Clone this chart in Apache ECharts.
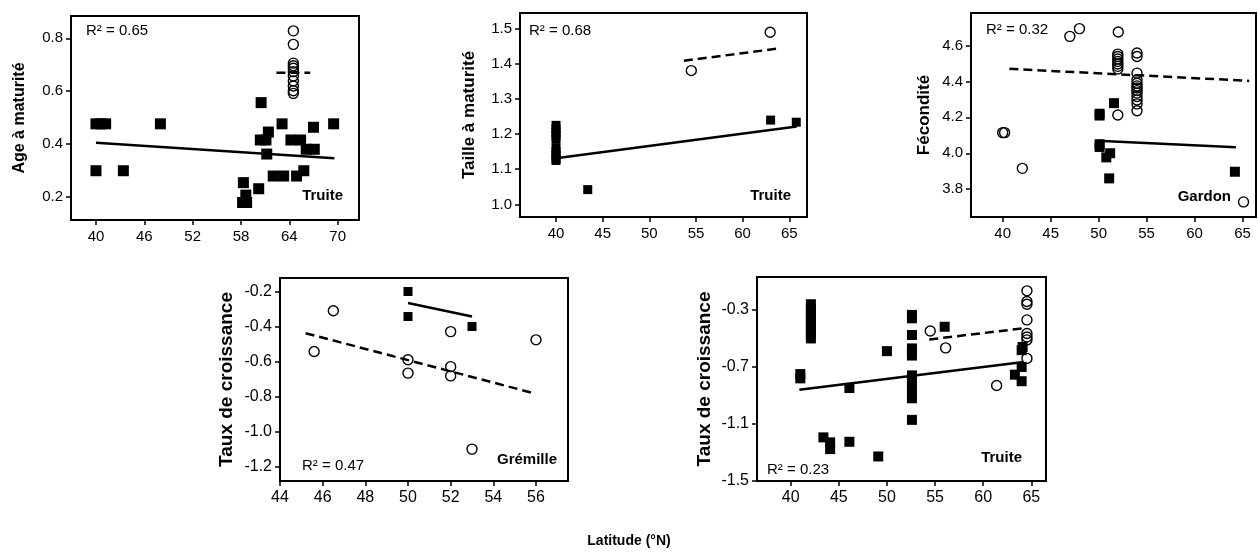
<!DOCTYPE html>
<html>
<head>
<meta charset="utf-8">
<script src="https://cdn.jsdelivr.net/npm/echarts@6/dist/echarts.min.js"></script>
<style>
  html, body { margin: 0; padding: 0; background: #fff; }
  #main { width: 1258px; height: 558px; }
</style>
</head>
<body>
<div id="main"></div>
<script>
// ---- Age à maturité (Truite) ----
const ageSquares = [
  [40, 0.477], [40.6, 0.477], [41.2, 0.477], [40, 0.30], [43.4, 0.30], [48.0, 0.477],
  [60.5, 0.557], [58.3, 0.255], [58.6, 0.208], [58.2, 0.18], [58.7, 0.18], [60.2, 0.232],
  [60.4, 0.416], [61.1, 0.416], [61.4, 0.446], [61.2, 0.363], [63.1, 0.477],
  [62.0, 0.28], [63.3, 0.28], [64.2, 0.416], [65.4, 0.416], [64.9, 0.28], [65.8, 0.30],
  [66.1, 0.381], [67.1, 0.381], [67.0, 0.464], [69.5, 0.477]
];
const ageCircles = [
  [64.5, 0.828], [64.5, 0.777], [64.5, 0.706], [64.5, 0.696], [64.5, 0.687], [64.5, 0.674],
  [64.5, 0.658], [64.5, 0.639], [64.5, 0.620], [64.5, 0.602], [64.5, 0.592]
];
const ageSolid = [[40, 0.406], [69.6, 0.347]];
const ageDashed = [[62.4, 0.670], [66.6, 0.670]];

// ---- Taille à maturité (Truite) ----
const tailleSquares = [
  [40, 1.225], [40, 1.215], [40, 1.205], [40, 1.195], [40, 1.185], [40, 1.16], [40, 1.15],
  [40, 1.14], [40, 1.13], [40, 1.125], [43.4, 1.042], [63.0, 1.24], [65.75, 1.234]
];
const tailleCircles = [[54.5, 1.381], [62.95, 1.49]];
const tailleSolid = [[40, 1.131], [65.8, 1.222]];
const tailleDashed = [[53.7, 1.409], [63.6, 1.443]];

// ---- Fécondité (Gardon) ----
const fecSquares = [
  [50.1, 4.22], [50.1, 4.21], [51.6, 4.279], [50.1, 4.05], [50.1, 4.035], [51.2, 4.0],
  [50.8, 3.977], [51.1, 3.86], [64.2, 3.897]
];
const fecCircles = [
  [40.0, 4.115], [40.2, 4.115], [42.05, 3.916], [47.0, 4.651], [48.0, 4.694], [52.05, 4.675],
  [52, 4.552], [52, 4.539], [52, 4.525], [52, 4.511], [52, 4.497], [52, 4.484], [52, 4.47],
  [52, 4.213], [54, 4.558], [54, 4.539], [54, 4.446], [54, 4.409], [54, 4.39], [54, 4.375],
  [54, 4.363], [54, 4.349], [54, 4.335], [54, 4.316], [54, 4.297], [54, 4.275], [54, 4.237],
  [65.1, 3.729]
];
const fecSolid = [[49.9, 4.07], [64.3, 4.033]];
const fecDashed = [[40.7, 4.47], [65.7, 4.403]];

// ---- Taux de croissance (Grémille) ----
const gremSquares = [[50, -0.2], [50, -0.343], [53, -0.40]];
const gremCircles = [
  [46.5, -0.31], [45.6, -0.543], [50, -0.59], [50, -0.666], [52, -0.429], [52, -0.629],
  [52, -0.682], [56, -0.476], [53, -1.10]
];
const gremSolid = [[50, -0.266], [53, -0.343]];
const gremDashed = [[45.2, -0.438], [55.9, -0.781]];

// ---- Taux de croissance (Truite) ----
const truSquares = [
  [42.1, -0.26], [42.1, -0.29], [42.1, -0.32], [42.1, -0.35], [42.1, -0.38], [42.1, -0.41],
  [42.1, -0.44], [42.1, -0.47], [42.1, -0.50], [41.0, -0.75], [41.0, -0.78],
  [43.4, -1.194], [44.1, -1.229], [44.1, -1.276], [46.1, -1.225], [46.1, -0.848],
  [49.1, -1.328], [50.0, -0.589],
  [52.6, -0.335], [52.6, -0.359], [52.6, -0.476], [52.6, -0.57], [52.6, -0.594], [52.6, -0.62],
  [52.6, -0.759], [52.6, -0.79], [52.6, -0.841], [52.6, -0.889], [52.6, -0.92], [52.6, -1.071],
  [56.0, -0.418], [64.0, -0.582], [64.1, -0.56], [64.0, -0.70], [63.3, -0.754], [64.0, -0.80]
];
const truCircles = [
  [54.5, -0.448], [56.1, -0.566], [61.4, -0.83], [64.55, -0.166], [64.55, -0.241],
  [64.55, -0.26], [64.55, -0.37], [64.55, -0.465], [64.55, -0.49], [64.55, -0.51], [64.55, -0.64]
];
const truSolid = [[40.9, -0.86], [64.2, -0.665]];
const truDashed = [[54.4, -0.507], [64.2, -0.429]];

// tick labels
const ageXTicks = [40, 46, 52, 58, 64, 70];
const ageYTicks = [0.2, 0.4, 0.6, 0.8];
const tailleXTicks = [40, 45, 50, 55, 60, 65];
const tailleYTicks = [1.0, 1.1, 1.2, 1.3, 1.4, 1.5];
const fecXTicks = [40, 45, 50, 55, 60, 65];
const fecYTicks = [3.8, 4.0, 4.2, 4.4, 4.6];
const gremXTicks = [44, 46, 48, 50, 52, 54, 56];
const gremYTicks = [-1.2, -1.0, -0.8, -0.6, -0.4, -0.2];
const truXTicks = [40, 45, 50, 55, 60, 65];
const truYTicks = [-1.5, -1.1, -0.7, -0.3];

const FONT = "'Liberation Sans', Arial, Helvetica, sans-serif";

// panel layout: grid box, axis ranges, font sizes, texts
const panels = [
  { grid: [71, 16, 288, 204], xr: [36.9, 72.65], yr: [0.114, 0.884], xt: ageXTicks, yt: ageYTicks,
    name: "Age à maturité", fs: 15, nfs: 16, gap: 43,
    sq: ageSquares, ci: ageCircles, solid: ageSolid, dashed: ageDashed, sqSize: 11, ciSize: 10,
    r2: "R² = 0.65", r2Pos: [86, 31], sp: "Truite", spPos: [343, 196] },
  { grid: [520, 13, 287, 204], xr: [36.14, 66.9], yr: [0.964, 1.545], xt: tailleXTicks, yt: tailleYTicks,
    name: "Taille à maturité", fs: 15, nfs: 17, gap: 42,
    sq: tailleSquares, ci: tailleCircles, solid: tailleSolid, dashed: tailleDashed, sqSize: 9, ciSize: 10,
    r2: "R² = 0.68", r2Pos: [529, 31], sp: "Truite", spPos: [791, 196] },
  { grid: [971, 13, 285, 204], xr: [36.7, 66.4], yr: [3.645, 4.781], xt: fecXTicks, yt: fecYTicks,
    name: "Fécondité", fs: 15, nfs: 17, gap: 38,
    sq: fecSquares, ci: fecCircles, solid: fecSolid, dashed: fecDashed, sqSize: 10, ciSize: 10,
    r2: "R² = 0.32", r2Pos: [986, 30], sp: "Gardon", spPos: [1231, 197] },
  { grid: [280, 278, 288, 203], xr: [44, 57.5], yr: [-1.282, -0.123], xt: gremXTicks, yt: gremYTicks,
    name: "Taux de croissance", fs: 16, nfs: 19, gap: 44,
    sq: gremSquares, ci: gremCircles, solid: gremSolid, dashed: gremDashed, sqSize: 9, ciSize: 10,
    r2: "R² = 0.47", r2Pos: [302, 466], sp: "Grémille", spPos: [557, 460] },
  { grid: [757, 277, 289, 204], xr: [36.5, 66.53], yr: [-1.5, -0.069], xt: truXTicks, yt: truYTicks,
    name: "Taux de croissance", fs: 16, nfs: 19, gap: 43,
    sq: truSquares, ci: truCircles, solid: truSolid, dashed: truDashed, sqSize: 10, ciSize: 10,
    r2: "R² = 0.23", r2Pos: [767, 470], sp: "Truite", spPos: [1022, 458] }
];

const grids = [], xAxes = [], yAxes = [], series = [], texts = [];

panels.forEach((p, i) => {
  grids.push({
    left: p.grid[0], top: p.grid[1], width: p.grid[2], height: p.grid[3],
    show: true, borderColor: "#000", borderWidth: 2, backgroundColor: "#fff"
  });
  xAxes.push({
    type: "value", gridIndex: i, min: p.xr[0], max: p.xr[1],
    axisLine: { show: true, onZero: false, lineStyle: { color: "#000", width: 2 } },
    axisTick: { show: true, length: 5, customValues: p.xt, lineStyle: { color: "#000", width: 1.5 } },
    axisLabel: { customValues: p.xt, margin: 9, color: "#000", fontSize: p.fs, fontFamily: FONT },
    splitLine: { show: false }
  });
  yAxes.push({
    type: "value", gridIndex: i, min: p.yr[0], max: p.yr[1],
    name: p.name, nameLocation: "middle", nameGap: p.gap,
    nameTextStyle: { color: "#000", fontSize: p.nfs, fontWeight: "bold", fontFamily: FONT },
    axisLine: { show: true, onZero: false, lineStyle: { color: "#000", width: 2 } },
    axisTick: { show: true, length: 5, customValues: p.yt, lineStyle: { color: "#000", width: 1.5 } },
    axisLabel: {
      customValues: p.yt, margin: 8, color: "#000", fontSize: p.fs, fontFamily: FONT,
      formatter: (v) => Number(v).toFixed(1)
    },
    splitLine: { show: false }
  });
  series.push({
    type: "line", xAxisIndex: i, yAxisIndex: i, data: p.solid, symbol: "none",
    lineStyle: { color: "#000", width: 2.5 }, z: 2
  });
  series.push({
    type: "line", xAxisIndex: i, yAxisIndex: i, data: p.dashed, symbol: "none",
    lineStyle: { color: "#000", width: 2.5, type: [9, 5] }, z: 2
  });
  series.push({
    type: "scatter", xAxisIndex: i, yAxisIndex: i, data: p.sq, symbol: "rect",
    symbolSize: p.sqSize, itemStyle: { color: "#000", opacity: 1 }, z: 3
  });
  series.push({
    type: "scatter", xAxisIndex: i, yAxisIndex: i, data: p.ci, symbol: "circle",
    symbolSize: p.ciSize,
    itemStyle: { color: "rgba(255,255,255,0)", borderColor: "#000", borderWidth: 1.4, opacity: 1 }, z: 4
  });
  texts.push({
    type: "text", x: p.r2Pos[0], y: p.r2Pos[1], z: 10,
    style: { text: p.r2, fill: "#000", font: "15px " + FONT, align: "left", verticalAlign: "middle" }
  });
  texts.push({
    type: "text", x: p.spPos[0], y: p.spPos[1], z: 10,
    style: { text: p.sp, fill: "#000", font: "bold 15px " + FONT, align: "right", verticalAlign: "middle" }
  });
});

texts.push({
  type: "text", x: 629, y: 541, z: 10,
  style: { text: "Latitude (°N)", fill: "#000", font: "bold 14px " + FONT, align: "center", verticalAlign: "middle" }
});

const chart = echarts.init(document.getElementById("main"));
chart.setOption({
  animation: false,
  backgroundColor: "#fff",
  grid: grids,
  xAxis: xAxes,
  yAxis: yAxes,
  series: series,
  graphic: texts
});
</script>
</body>
</html>
